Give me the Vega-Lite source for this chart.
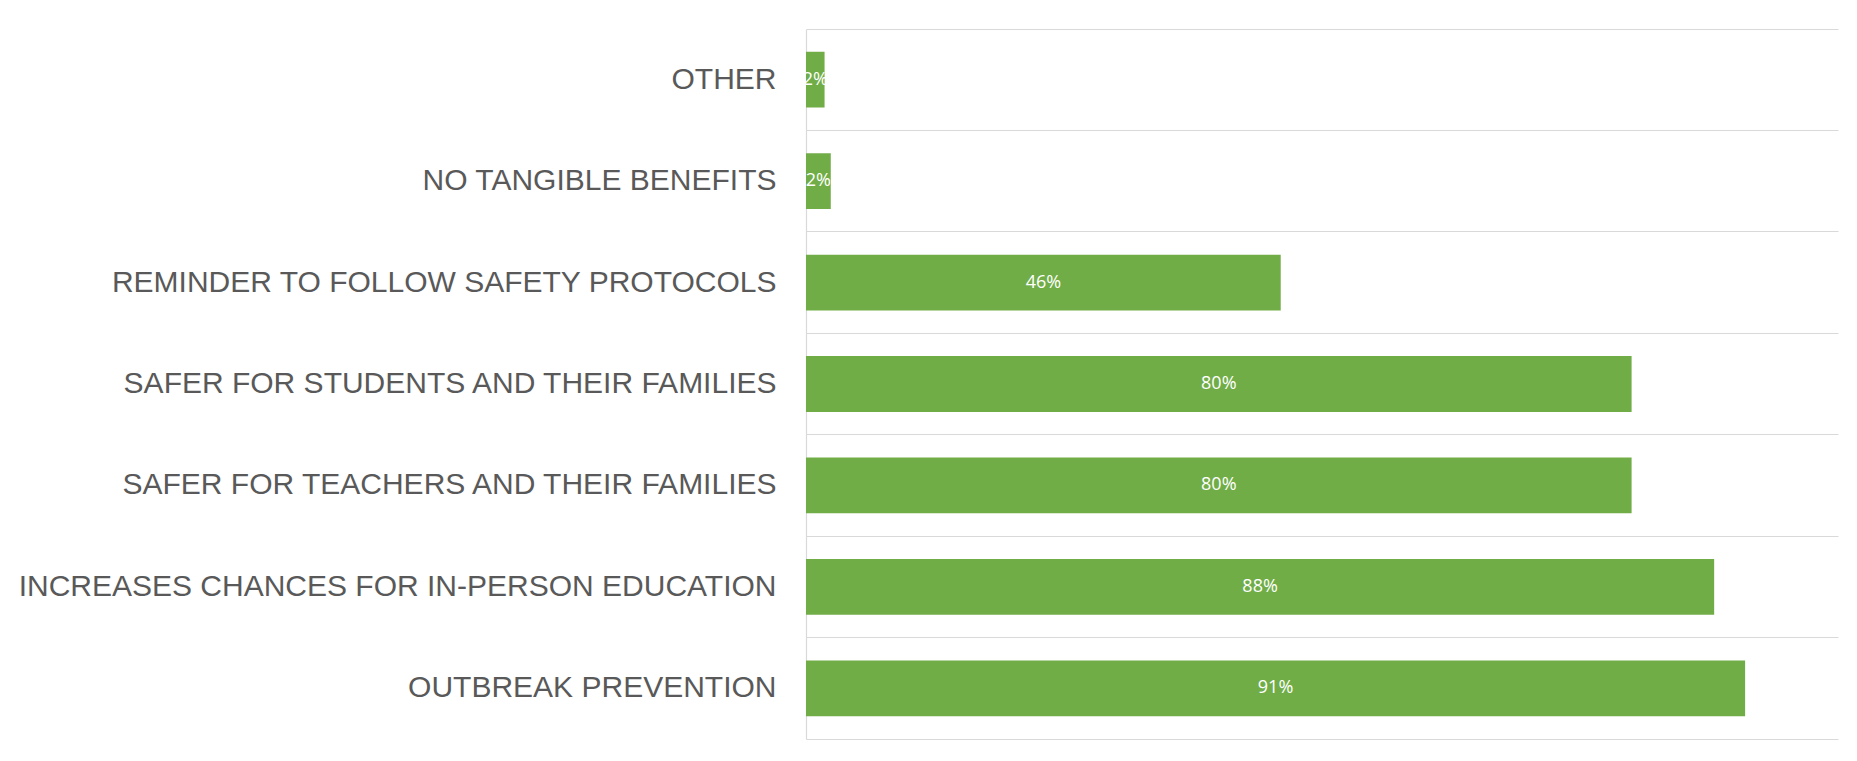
{
  "$schema": "https://vega.github.io/schema/vega-lite/v6.json",
  "autosize": {"type": "none"},
  "padding": {"left": 806, "top": 29, "right": 19, "bottom": 22},
  "width": 1032,
  "height": 710,
  "background": "#ffffff",
  "config": {"view": {"stroke": null}},
  "data": {
    "values": [
      {"benefit": "OTHER", "share": 0.018},
      {"benefit": "NO TANGIBLE BENEFITS", "share": 0.024},
      {"benefit": "REMINDER TO FOLLOW SAFETY PROTOCOLS", "share": 0.46},
      {"benefit": "SAFER FOR STUDENTS AND THEIR FAMILIES", "share": 0.80},
      {"benefit": "SAFER FOR TEACHERS AND THEIR FAMILIES", "share": 0.80},
      {"benefit": "INCREASES CHANCES FOR IN-PERSON EDUCATION", "share": 0.88},
      {"benefit": "OUTBREAK PREVENTION", "share": 0.91}
    ]
  },
  "encoding": {
    "y": {
      "field": "benefit",
      "type": "nominal",
      "sort": null,
      "scale": {"paddingInner": 0, "paddingOuter": 0},
      "axis": {
        "title": null,
        "bandPosition": 0,
        "grid": true,
        "gridColor": "#d9d9d9",
        "gridWidth": 1.2,
        "domain": true,
        "domainColor": "#d9d9d9",
        "domainWidth": 1.2,
        "ticks": false,
        "labelPadding": 30,
        "labelFont": "Liberation Sans",
        "labelFontSize": 30,
        "labelColor": "#595959",
        "labelLimit": 900,
        "labelAlign": "right",
        "labelBaseline": "middle"
      }
    }
  },
  "layer": [
    {
      "mark": {"type": "bar", "color": "#70ad47", "height": {"band": 0.55}},
      "encoding": {
        "x": {
          "field": "share",
          "type": "quantitative",
          "scale": {"domain": [0, 1], "nice": false},
          "axis": {
            "title": null,
            "labels": false,
            "ticks": false,
            "grid": false,
            "domain": true,
            "domainColor": "#d9d9d9",
            "domainWidth": 1.2
          }
        }
      }
    },
    {
      "mark": {
        "type": "text",
        "color": "#ffffff",
        "font": "Open Sans",
        "fontSize": 18,
        "align": "center",
        "baseline": "middle"
      },
      "encoding": {
        "x": {"field": "share", "type": "quantitative", "bandPosition": 0.5, "stack": "zero", "aggregate": "sum"},
        "text": {"field": "share", "type": "quantitative", "format": ".0%"}
      }
    }
  ]
}
